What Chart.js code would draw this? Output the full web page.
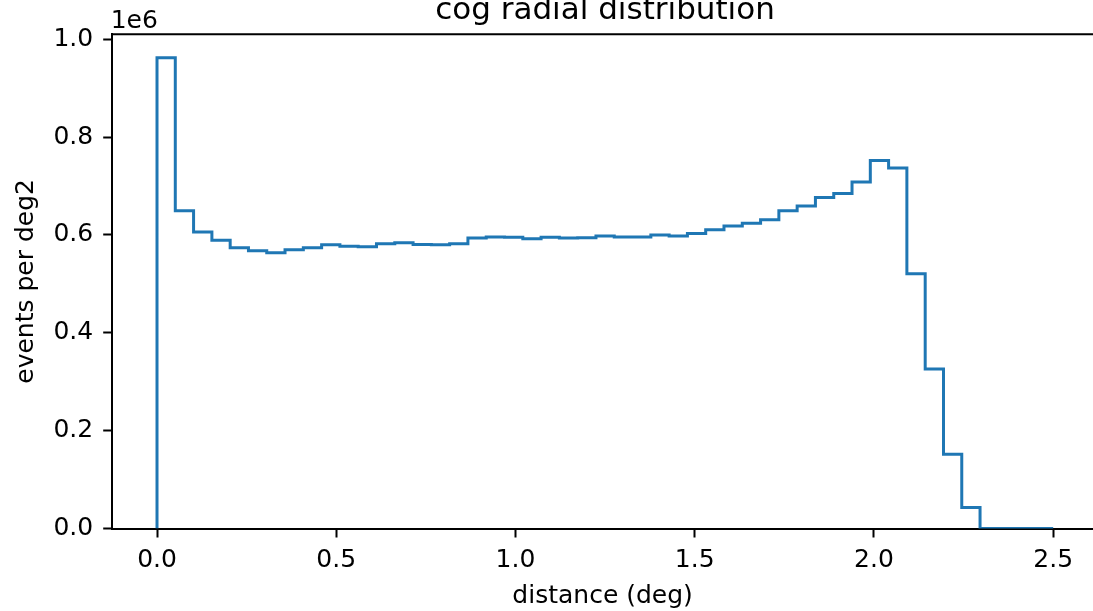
<!DOCTYPE html>
<html>
<head>
<meta charset="utf-8">
<script src="https://cdn.jsdelivr.net/npm/chart.js@4.4.1/dist/chart.umd.min.js"></script>
<style>
  html, body { margin: 0; padding: 0; background: #ffffff; }
  #wrap { width: 1093px; height: 611px; position: relative; }
</style>
</head>
<body>
<div id="wrap"><canvas id="c" width="1093" height="611"></canvas></div>
<script>
// ---- data ----
const chartTitle = "cog radial distribution";
const xAxisLabel = "distance (deg)";
const yAxisLabel = "events per deg2";
const yOffsetLabel = "1e6";

// histogram bin edges (deg), 49 bins between 0 and 2.5
const binEdges = [0, 0.0510, 0.1020, 0.1531, 0.2041, 0.2551, 0.3061, 0.3571, 0.4082, 0.4592,
  0.5102, 0.5612, 0.6122, 0.6633, 0.7143, 0.7653, 0.8163, 0.8673, 0.9184, 0.9694,
  1.0204, 1.0714, 1.1224, 1.1735, 1.2245, 1.2755, 1.3265, 1.3776, 1.4286, 1.4796,
  1.5306, 1.5816, 1.6327, 1.6837, 1.7347, 1.7857, 1.8367, 1.8878, 1.9388, 1.9898,
  2.0408, 2.0918, 2.1429, 2.1939, 2.2449, 2.2959, 2.3469, 2.3980, 2.4490, 2.5];

// events per deg2 in each bin
const binValues = [962000, 649600, 606000, 589000, 574000, 567600, 563500, 569700, 574000, 579900,
  577000, 575800, 582000, 584000, 580600, 580000, 582000, 593600, 595600, 595000,
  592200, 595000, 593600, 594300, 597700, 595600, 595600, 599700, 598000, 603000,
  610700, 618000, 623700, 631100, 649600, 659000, 676500, 684400, 708300, 752000,
  737000, 520500, 325800, 151600, 43000, 0, 0, 0, 0];

const xTicks = [0.0, 0.5, 1.0, 1.5, 2.0, 2.5];
const yTicks = [0, 200000, 400000, 600000, 800000, 1000000];

// ---- build step outline points from the arrays ----
const stepPoints = [{ x: binEdges[0], y: 0 }];
for (let i = 0; i < binValues.length; i++) {
  stepPoints.push({ x: binEdges[i], y: binValues[i] });
}
stepPoints.push({ x: binEdges[binEdges.length - 1], y: binValues[binValues.length - 1] });

const FONT = "'DejaVu Sans', 'Liberation Sans', sans-serif";
Chart.defaults.font.family = FONT;
Chart.defaults.color = '#000000';

const extras = {
  id: 'extras',
  afterDraw(chart) {
    const ctx = chart.ctx;
    const a = chart.chartArea;
    ctx.save();
    // top spine (right spine falls outside the picture)
    ctx.strokeStyle = '#000000';
    ctx.lineWidth = 2;
    ctx.beginPath();
    ctx.moveTo(a.left - 1, a.top);
    ctx.lineTo(a.right + 2, a.top);
    ctx.stroke();
    // title, centred over the full (uncropped) axes
    ctx.fillStyle = '#000000';
    ctx.font = "31px " + FONT;
    ctx.textAlign = 'center';
    ctx.textBaseline = 'alphabetic';
    ctx.fillText(chartTitle, 605, 19);
    // offset text
    ctx.font = "25px " + FONT;
    ctx.textAlign = 'left';
    ctx.fillText(yOffsetLabel, a.left - 1.5, 28.3);
    ctx.restore();
  }
};

new Chart(document.getElementById('c'), {
  type: 'line',
  data: {
    datasets: [{
      data: stepPoints,
      stepped: 'before',
      borderColor: '#1f77b4',
      borderWidth: 3,
      pointRadius: 0,
      fill: false,
      tension: 0
    }]
  },
  options: {
    responsive: false,
    animation: false,
    devicePixelRatio: 1,
    layout: { padding: { top: 34.3, right: 0, left: 0, bottom: 0 } },
    plugins: { legend: { display: false }, tooltip: { enabled: false }, title: { display: false } },
    scales: {
      x: {
        type: 'linear',
        min: -0.125,
        max: 2.611,
        afterFit(s) { s.height = 82.5; },
        afterBuildTicks(s) { s.ticks = xTicks.map(v => ({ value: v })); },
        grid: { drawOnChartArea: false, drawTicks: true, tickLength: 9, tickWidth: 2, tickColor: '#000000' },
        border: { display: true, color: '#000000', width: 2 },
        ticks: {
          font: { size: 25 },
          color: '#000000',
          padding: 8,
          maxRotation: 0,
          autoSkip: false,
          callback: (v) => Number(v).toFixed(1)
        },
        title: { display: true, text: xAxisLabel, font: { size: 25 }, color: '#000000', padding: { top: 0, bottom: 0 } }
      },
      y: {
        type: 'linear',
        min: 0,
        max: 1010000,
        afterFit(s) { s.width = 112.2; },
        afterBuildTicks(s) { s.ticks = yTicks.map(v => ({ value: v })); },
        grid: { drawOnChartArea: false, drawTicks: true, tickLength: 9, tickWidth: 2, tickColor: '#000000' },
        border: { display: true, color: '#000000', width: 2 },
        ticks: {
          font: { size: 25 },
          color: '#000000',
          padding: 10,
          autoSkip: false,
          callback: (v) => (Number(v) / 1e6).toFixed(1)
        },
        title: { display: true, text: yAxisLabel, font: { size: 25 }, color: '#000000', padding: { top: 11, bottom: 0 } }
      }
    }
  },
  plugins: [extras]
});
</script>
</body>
</html>
